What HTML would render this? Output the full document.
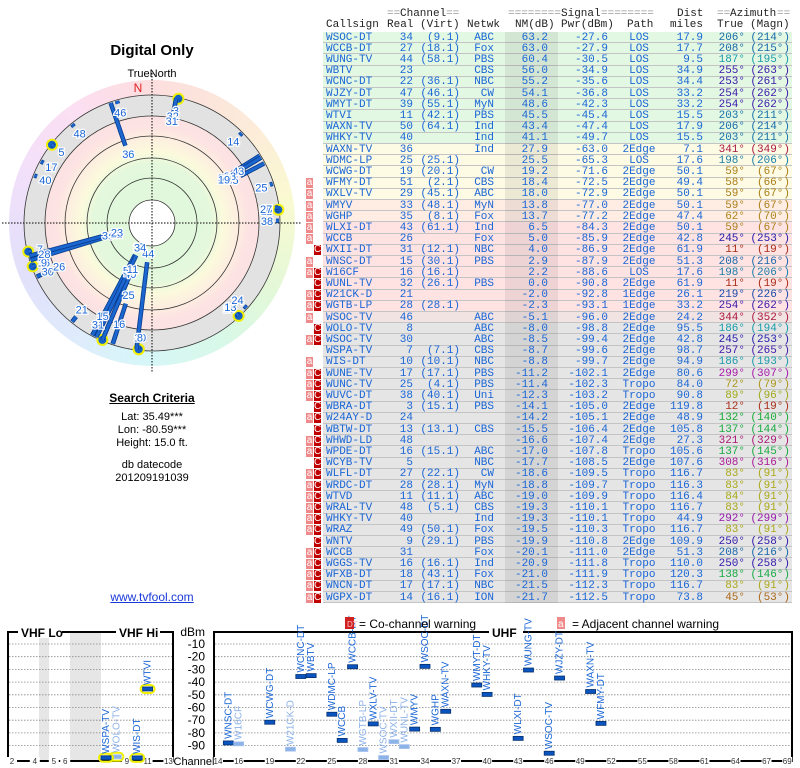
<!DOCTYPE html>
<html><head><meta charset="utf-8">
<style>
html,body{margin:0;padding:0;background:#fff;}
#root{position:relative;width:800px;height:768px;overflow:hidden;font-family:"Liberation Sans",sans-serif;}
.mono{font-family:"Liberation Mono",monospace;font-size:11px;white-space:pre;position:absolute;line-height:11px;}
.t{position:absolute;white-space:nowrap;}
</style></head>
<body>
<div id="root">
  <div class="t" style="left:0;width:304px;top:42px;text-align:center;font-weight:bold;font-size:15px;">Digital Only</div>
  <div class="t" style="left:0;width:304px;top:68px;text-align:center;font-size:11px;">TrueNorth</div>
  <div id="ring" style="position:absolute;left:9px;top:80px;width:286px;height:286px;border-radius:50%;background:conic-gradient(from 0deg, hsl(0,85%,93%), hsl(30,85%,92%) 45deg, hsl(60,80%,90%) 80deg, hsl(100,70%,91%) 120deg, hsl(150,70%,91%) 150deg, hsl(185,75%,91%) 185deg, hsl(215,80%,93%) 215deg, hsl(245,75%,93%) 250deg, hsl(280,75%,93%) 290deg, hsl(320,80%,93%) 325deg, hsl(0,85%,93%));"></div>
  <svg id="polar" width="304" height="380" style="position:absolute;left:0;top:0;"></svg>

  <div class="t" style="left:0;width:304px;top:391px;text-align:center;font-weight:bold;font-size:12px;text-decoration:underline;">Search Criteria</div>
  <div class="t" style="left:0;width:304px;top:411px;text-align:center;font-size:11px;">Lat: 35.49***</div>
  <div class="t" style="left:0;width:304px;top:424px;text-align:center;font-size:11px;">Lon: -80.59***</div>
  <div class="t" style="left:0;width:304px;top:437px;text-align:center;font-size:11px;">Height: 15.0 ft.</div>
  <div class="t" style="left:0;width:304px;top:459px;text-align:center;font-size:11px;">db datecode</div>
  <div class="t" style="left:0;width:304px;top:472px;text-align:center;font-size:11px;">201209191039</div>
  <div class="t" style="left:0;width:304px;top:590px;text-align:center;font-size:12px;color:#1a3ad8;text-decoration:underline;">www.tvfool.com</div>

  <div id="table" style="position:absolute;left:0;top:0;width:800px;height:768px;"></div>

  <svg id="spec" width="800" height="768" style="position:absolute;left:0;top:0;pointer-events:none;"></svg>
</div>
<script>
const callsigns=["WSOC-DT","WCCB-DT","WUNG-TV","WBTV","WCNC-DT","WJZY-DT","WMYT-DT","WTVI","WAXN-TV","WHKY-TV","WAXN-TV","WDMC-LP","WCWG-DT","WFMY-DT","WXLV-TV","WMYV","WGHP","WLXI-DT","WCCB","WXII-DT","WNSC-DT","W16CF","WUNL-TV","W21CK-D","WGTB-LP","WSOC-TV","WOLO-TV","WSOC-TV","WSPA-TV","WIS-DT","WUNE-TV","WUNC-TV","WUVC-DT","WBRA-DT","W24AY-D","WBTW-DT","WHWD-LD","WPDE-DT","WCYB-TV","WLFL-DT","WRDC-DT","WTVD","WRAL-TV","WHKY-TV","WRAZ","WNTV","WCCB","WGGS-TV","WFXB-DT","WNCN-DT","WGPX-DT"];
const realCh=[34,27,44,23,22,47,39,11,50,40,36,25,19,51,29,33,35,43,26,31,15,16,32,21,28,46,8,30,7,10,17,25,38,3,24,13,48,16,5,27,28,11,48,40,49,9,31,16,18,17,14];
const virtCh=["9.1","18.1","58.1","","36.1","46.1","55.1","42.1","64.1","","","25.1","20.1","2.1","45.1","48.1","8.1","61.1","","12.1","30.1","16.1","26.1","","28.1","","","","7.1","10.1","17.1","4.1","40.1","15.1","","13.1","","15.1","","22.1","28.1","11.1","5.1","","50.1","29.1","","16.1","43.1","17.1","16.1"];
const networks=["ABC","Fox","PBS","CBS","NBC","CW","MyN","PBS","Ind","Ind","Ind","","CW","CBS","ABC","MyN","Fox","Ind","Fox","NBC","PBS","","PBS","","","ABC","ABC","ABC","CBS","NBC","PBS","PBS","Uni","PBS","","CBS","","ABC","NBC","CW","MyN","ABC","CBS","Ind","Fox","PBS","Fox","Ind","Fox","NBC","ION"];
const nmDb=[63.2,63.0,60.4,56.0,55.2,54.1,48.6,45.5,43.4,41.1,27.9,25.5,19.2,18.4,18.0,13.8,13.7,6.5,5.0,4.0,2.9,2.2,0.0,-2.0,-2.3,-5.1,-8.0,-8.5,-8.7,-8.8,-11.2,-11.4,-12.3,-14.1,-14.2,-15.5,-16.6,-17.0,-17.7,-18.6,-18.8,-19.0,-19.3,-19.3,-19.5,-19.9,-20.1,-20.9,-21.0,-21.5,-21.7];
const pwrDbm=[-27.6,-27.9,-30.5,-34.9,-35.6,-36.8,-42.3,-45.4,-47.4,-49.7,-63.0,-65.3,-71.6,-72.5,-72.9,-77.0,-77.2,-84.3,-85.9,-86.9,-87.9,-88.6,-90.8,-92.8,-93.1,-96.0,-98.8,-99.4,-99.6,-99.7,-102.1,-102.3,-103.2,-105.0,-105.1,-106.4,-107.4,-107.8,-108.5,-109.5,-109.7,-109.9,-110.1,-110.1,-110.3,-110.8,-111.0,-111.8,-111.9,-112.3,-112.5];
const paths=["LOS","LOS","LOS","LOS","LOS","LOS","LOS","LOS","LOS","LOS","2Edge","LOS","2Edge","2Edge","2Edge","2Edge","2Edge","2Edge","2Edge","2Edge","2Edge","LOS","2Edge","1Edge","1Edge","2Edge","2Edge","2Edge","2Edge","2Edge","2Edge","Tropo","Tropo","2Edge","2Edge","2Edge","2Edge","Tropo","2Edge","Tropo","Tropo","Tropo","Tropo","Tropo","Tropo","2Edge","2Edge","Tropo","Tropo","Tropo","Tropo"];
const distMiles=[17.9,17.7,9.5,34.9,34.4,33.2,33.2,15.5,17.9,15.5,7.1,17.6,50.1,49.4,50.1,50.1,47.4,50.1,42.8,61.9,51.3,17.6,61.9,26.1,33.2,24.2,95.5,42.8,98.7,94.9,80.6,84.0,90.8,119.8,48.9,105.8,27.3,105.6,107.6,116.7,116.3,116.4,116.7,44.9,116.7,109.9,51.3,110.0,120.3,116.7,73.8];
const azTrue=[206,208,187,255,253,254,254,203,206,203,341,198,59,58,59,59,62,59,245,11,208,198,11,219,254,344,186,245,257,186,299,72,89,12,132,137,321,137,308,83,83,84,83,292,83,250,208,250,138,83,45];
const azMagn=[214,215,195,263,261,262,262,211,214,211,349,206,67,66,67,67,70,67,253,19,216,206,19,226,262,352,194,253,265,193,307,79,96,19,140,144,329,145,316,91,91,91,91,299,91,258,216,258,146,91,53];
const flags=["","","","","","","","","","","","","","a","a","a","a","a","a","C","a","aC","C","aC","aC","a","C","aC","","a","aC","aC","aC","C","aC","C","aC","aC","C","aC","aC","aC","aC","aC","aC","C","aC","aC","aC","aC","aC"];
const dbmTicks=[-10,-20,-30,-40,-50,-60,-70,-80,-90];
const uhfTickCh=[14,16,19,22,25,28,31,34,37,40,43,46,49,52,55,58,61,64,67,69];
const vhfTickCh=[2,4,5,6,9,11,13];

const NS="http://www.w3.org/2000/svg";
function mk(parent,tag,attrs){const e=document.createElementNS(NS,tag);for(const k in attrs)e.setAttribute(k,attrs[k]);parent.appendChild(e);return e;}
function azColor(a){let h=a<90?a*0.72:a;return "hsl("+h+",75%,38%)";}

/* ---------- TABLE ---------- */
const tbl=document.getElementById('table');
function txt(parent,s,x,y,opts){const d=document.createElement('div');d.className='mono';d.textContent=s;d.style.top=y+'px';
 if(opts&&opts.right){d.style.left=(x-100)+'px';d.style.width='100px';d.style.textAlign='right';}else if(opts&&opts.center){d.style.left=(x-40)+'px';d.style.width='80px';d.style.textAlign='center';}else d.style.left=x+'px';
 d.style.color=(opts&&opts.color)||'#1a66d6';parent.appendChild(d);return d;}
const hdr=document.createElement('div');tbl.appendChild(hdr);
[["==",387,'#999'],["Channel",400,'#222'],["==",446,'#999'],["========",508,'#999'],["Signal",561,'#222'],["========",601,'#999'],["Dist",677,'#222'],["==",717,'#999'],["Azimuth",730,'#222'],["==",777,'#999']].forEach(h=>txt(hdr,h[0],h[1],9,{color:h[2]}));
[["Callsign",326],["Real",387],["(Virt)",420],["Netwk",467],["NM(dB)",515],["Pwr(dBm)",561],["Path",627],["miles",670],["True",717],["(Magn)",750]].forEach(h=>txt(hdr,h[0],h[1],20,{color:'#222'}));
const ROW0=32,RH=11.2;
function rowBg(i){if(i<10)return '#e3f8e3';if(i<15)return '#fdfbe3';if(i<17)return '#ffede3';if(i<25)return '#ffe3e3';if(i<26)return '#f2e3e3';return '#e5e5e5';}
for(let i=0;i<callsigns.length;i++){
 const y=ROW0+i*RH;
 const r=document.createElement('div');
 
 
 r.style.cssText='position:absolute;left:0;top:0;width:800px;height:0;';
 tbl.appendChild(r);
 const bg=document.createElement('div');bg.style.cssText='position:absolute;left:323px;width:469px;top:'+y+'px;height:'+(RH-1)+'px;background:'+rowBg(i)+';border-bottom:1px solid #c4c4c4;';r.appendChild(bg);
 const sh=document.createElement('div');sh.style.cssText='position:absolute;left:505px;width:53px;top:'+y+'px;height:'+RH+'px;background:rgba(0,0,0,0.07);';r.appendChild(sh);
 const ty=y+0.5;
 txt(r,callsigns[i],326,ty);
 txt(r,String(realCh[i]),413,ty,{right:1});
 if(virtCh[i])txt(r,'('+virtCh[i]+')',460,ty,{right:1});
 if(networks[i])txt(r,networks[i],494,ty,{right:1});
 txt(r,nmDb[i].toFixed(1),548,ty,{right:1});
 txt(r,pwrDbm[i].toFixed(1),608,ty,{right:1});
 txt(r,paths[i],639,ty,{center:1});
 txt(r,distMiles[i].toFixed(1),703,ty,{right:1});
 const c=azColor(azTrue[i]);
 txt(r,azTrue[i]+'°',745,ty,{right:1,color:c});
 txt(r,'('+azMagn[i]+'°)',790,ty,{right:1,color:c});
 if(flags[i].indexOf('a')>=0){const f=document.createElement('div');f.style.cssText='position:absolute;left:306px;top:'+(y+0.5)+'px;width:7px;height:10px;background:#f08a8a;color:#fff;font:10px "Liberation Sans",sans-serif;line-height:10px;text-align:center;';f.textContent='a';r.appendChild(f);}
 if(flags[i].indexOf('C')>=0){const f=document.createElement('div');f.style.cssText='position:absolute;left:314px;top:'+(y+0.5)+'px;width:7px;height:10px;background:#c00000;color:#fff;font:10px "Liberation Sans",sans-serif;line-height:10px;text-align:center;';f.textContent='C';r.appendChild(f);}
}

/* ---------- POLAR ---------- */
const P=document.getElementById('polar');const CX=152,CY=223;
mk(P,'circle',{cx:CX,cy:CY,r:128,fill:'#e2e2e2'});
const rg=mk(P,'defs',{});
const grad=mk(rg,'radialGradient',{id:'zones',cx:CX,cy:CY,r:107,gradientUnits:'userSpaceOnUse'});
[[0,'#e0f8dc'],[0.55,'#e3f8dc'],[0.66,'#fbfadc'],[0.8,'#fdeee0'],[0.9,'#fde3e3'],[1,'#fbe2e2']].forEach(s=>mk(grad,'stop',{offset:s[0],'stop-color':s[1]}));
mk(P,'circle',{cx:CX,cy:CY,r:107,fill:'url(#zones)'});
mk(P,'circle',{cx:CX,cy:CY,r:23,fill:'#fff'});
[23,45,65,87,107,128].forEach(r=>mk(P,'circle',{cx:CX,cy:CY,r:r,fill:'none',stroke:'#333','stroke-width':0.8}));
mk(P,'line',{x1:CX-150,y1:CY,x2:CX+150,y2:CY,stroke:'#000','stroke-width':1,'stroke-dasharray':'1.5,1.5'});
mk(P,'line',{x1:CX,y1:CY-150,x2:CX,y2:CY+150,stroke:'#000','stroke-width':1,'stroke-dasharray':'1.5,1.5'});
const nl=mk(P,'text',{x:CX-14,y:CY-131,fill:'#e02020','font-size':12,'font-family':'Liberation Sans, sans-serif','text-anchor':'middle'});nl.textContent='N';


function rIn(nm){return Math.max(36,Math.min(124,118-1.3*nm));}
function pt(az,r){const a=az*Math.PI/180;return [CX+r*Math.sin(a),CY-r*Math.cos(a)];}
const labels=[];
for(let i=callsigns.length-1;i>=0;i--){
 const a=azTrue[i],r0=rIn(nmDb[i]),r1=127;
 const p0=pt(a,r0),p1=pt(a,r1);
 const g=mk(P,'g',{});
 
 
 const vhf=realCh[i]<=13;
 if(vhf)mk(g,'circle',{cx:p1[0],cy:p1[1],r:5,fill:'#1560c8',stroke:'#f0f000','stroke-width':2});
 mk(g,'line',{x1:p0[0],y1:p0[1],x2:p1[0],y2:p1[1],stroke:'#083e90','stroke-width':4.5});
 mk(g,'line',{x1:p0[0],y1:p0[1],x2:p1[0],y2:p1[1],stroke:'#1c66d0','stroke-width':2.8});
 labels.push([i,pt(a,r0-9)]);
}
labels.forEach(l=>{const t=mk(P,'text',{x:l[1][0],y:l[1][1]+4,fill:'#1a66d6','font-size':11,'font-family':'Liberation Sans, sans-serif','text-anchor':'middle',stroke:'#fff','stroke-width':2.5,'paint-order':'stroke'});t.textContent=realCh[l[0]];
 
 });

/* ---------- SPECTRUM ---------- */
const S=document.getElementById('spec');
const TOP=632,BOT=761;
function yDbm(d){return 644+(-10-d)*1.27;}
function uhfX(ch){return 218+(ch-14)*10.35;}
const loFreq={2:57,3:63,4:69,5:79,6:85};
function vhfX(ch){if(ch<=6)return 12+(loFreq[ch]-57)*1.9;return 106+(ch-7)*10.4;}
mk(S,'rect',{x:39,y:TOP,width:10,height:BOT-TOP,fill:'#e6e6e6'});
mk(S,'rect',{x:70,y:TOP,width:31,height:BOT-TOP,fill:'#e6e6e6'});
dbmTicks.forEach(d=>{const y=yDbm(d);
 mk(S,'line',{x1:9,x2:172,y1:y,y2:y,stroke:'#888','stroke-dasharray':'1.5,1.5','stroke-width':0.8});
 mk(S,'line',{x1:215,x2:791,y1:y,y2:y,stroke:'#888','stroke-dasharray':'1.5,1.5','stroke-width':0.8});
 const t=mk(S,'text',{x:205,y:y+4,'font-size':12,'font-family':'Liberation Sans, sans-serif','text-anchor':'end',fill:'#000'});t.textContent=d;
 
 });
const dl=mk(S,'text',{x:205,y:TOP+4,'font-size':12,'font-family':'Liberation Sans, sans-serif','text-anchor':'end'});dl.textContent='dBm';


const vb=mk(S,'rect',{x:8,y:TOP,width:165,height:BOT-TOP,fill:'none',stroke:'#000','stroke-width':2});


const ub=mk(S,'rect',{x:214,y:TOP,width:578,height:BOT-TOP,fill:'none',stroke:'#000','stroke-width':2});


function boxTitle(s,x,w,name){mk(S,'rect',{x:x-3,y:TOP-6,width:w+6,height:12,fill:'#fff'});const t=mk(S,'text',{x:x,y:TOP+5,'font-size':12,'font-weight':'bold','font-family':'Liberation Sans, sans-serif'});t.textContent=s;
 
 }
boxTitle('VHF Lo',21,38,'vhf-lo-title');boxTitle('VHF Hi',119,38,'vhf-hi-title');boxTitle('UHF',492,28,'uhf-title');
function chLbl(s,x,name){mk(S,'rect',{x:x-5,y:BOT-4,width:10,height:8,fill:'#fff'});const t=mk(S,'text',{x:x,y:BOT+3,'font-size':8,'font-family':'Liberation Sans, sans-serif','text-anchor':'middle',fill:'#333'});t.textContent=s;
 
 }
vhfTickCh.forEach(c=>chLbl(c,vhfX(c),'vhf-channel-tick'));
uhfTickCh.forEach(c=>chLbl(c,uhfX(c),'uhf-channel-tick'));
mk(S,'rect',{x:176,y:BOT-6,width:36,height:12,fill:'#fff'});
const cl=mk(S,'text',{x:194,y:BOT+4,'font-size':11,'font-family':'Liberation Sans, sans-serif','text-anchor':'middle'});cl.textContent='Channel';


for(let i=0;i<callsigns.length;i++){
 if(nmDb[i]<-8.9)continue;
 const ch=realCh[i],vhf=ch<=13;
 const x=vhf?vhfX(ch):uhfX(ch);
 const y=Math.min(BOT-3,yDbm(pwrDbm[i]));
 const faded=flags[i].indexOf('C')>=0;
 const g=mk(S,'g',{});
 
 
 if(vhf)mk(g,'rect',{x:x-7,y:y-4,width:14,height:8,rx:4,fill:'none',stroke:'#f0f000','stroke-width':2});
 mk(g,'rect',{x:x-5,y:y-2,width:10,height:4,fill:faded?'#8cb2e8':'#0a54c0',stroke:faded?'#a8c4ee':'#06306e','stroke-width':0.8});
 const t=mk(g,'text',{x:0,y:0,'font-size':10,'font-family':'Liberation Sans, sans-serif',fill:faded?'#8cb2e8':'#1a66d6',transform:'translate('+(x+3)+','+(y-4)+') rotate(-90)'});t.textContent=callsigns[i];
}
const lg=mk(S,'g',{});


mk(lg,'rect',{x:345,y:617,width:9,height:12,fill:'#d02020'});
const d1=mk(lg,'text',{x:347,y:627,'font-size':8,fill:'#f8c0c0','font-family':'Liberation Sans, sans-serif'});d1.textContent='DT';
const l1=mk(lg,'text',{x:359,y:628,'font-size':12,'font-family':'Liberation Sans, sans-serif'});l1.textContent='= Co-channel warning';
mk(lg,'rect',{x:557,y:617,width:8,height:12,fill:'#f08a8a'});
const d2=mk(lg,'text',{x:558,y:627,'font-size':10,fill:'#fff','font-family':'Liberation Sans, sans-serif'});d2.textContent='a';
const l2=mk(lg,'text',{x:572,y:628,'font-size':12,'font-family':'Liberation Sans, sans-serif'});l2.textContent='= Adjacent channel warning';
</script>
</body></html>
